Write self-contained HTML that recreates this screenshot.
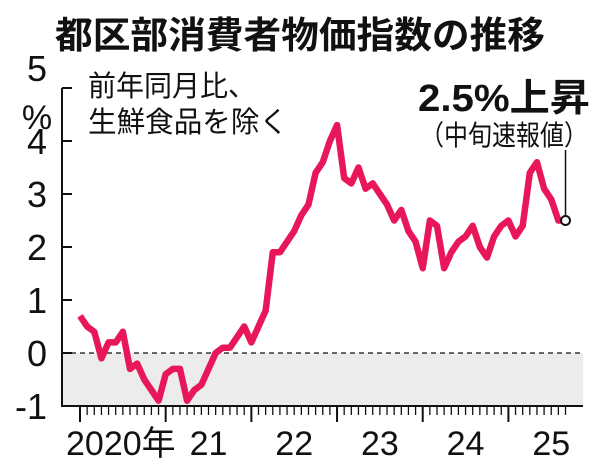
<!DOCTYPE html>
<html><head><meta charset="utf-8"><style>
body{margin:0;background:#fff}
svg{display:block;font-family:"Liberation Sans","Noto Sans CJK JP",sans-serif}
</style></head><body>
<svg width="600" height="469" viewBox="0 0 600 469">
<text x="300" y="48" text-anchor="middle" font-size="37" font-weight="bold" fill="#111" textLength="490" lengthAdjust="spacingAndGlyphs">都区部消費者物価指数の推移</text>
<g id="plot"></g>
<text x="88" y="96" font-size="29" fill="#111" textLength="168" lengthAdjust="spacingAndGlyphs">前年同月比、</text>
<text x="88" y="132" font-size="29" fill="#111" textLength="200" lengthAdjust="spacingAndGlyphs">生鮮食品を除く</text>
<text x="37" y="129" text-anchor="middle" font-size="34" fill="#111">%</text>
<text x="418" y="111" font-size="38" font-weight="bold" fill="#111" textLength="172" lengthAdjust="spacingAndGlyphs">2.5%上昇</text>
<text x="420" y="145" font-size="28" fill="#111" textLength="168" lengthAdjust="spacingAndGlyphs">（中旬速報値）</text>
</svg>
<script>
const years=["2020年","21","22","23","24","25"];
const yTicks=[-1,0,1,2,3,4,5];
const values=[0.7,0.5,0.4,-0.1,0.2,0.2,0.4,-0.3,-0.2,-0.5,-0.7,-0.9,
-0.4,-0.3,-0.3,-0.9,-0.7,-0.6,-0.3,0.0,0.1,0.1,0.3,0.5,
0.2,0.5,0.8,1.9,1.9,2.1,2.3,2.6,2.8,3.4,3.6,4.0,
4.3,3.3,3.2,3.5,3.1,3.2,3.0,2.8,2.5,2.7,2.3,2.1,
1.6,2.5,2.4,1.6,1.9,2.1,2.2,2.4,2.0,1.8,2.2,2.4,
2.5,2.2,2.4,3.4,3.6,3.1,2.9,2.5,2.5];
const NS="http://www.w3.org/2000/svg";
const g=document.getElementById('plot');
const x=i=>80+i*7.14;
const y=v=>353-v*53;
function el(t,a){const e=document.createElementNS(NS,t);for(const k in a)e.setAttribute(k,a[k]);g.appendChild(e);return e;}
let r=el('rect',{x:62,y:y(0),width:521,height:y(-1)-y(0),fill:'#ececec'});


let zl=el('line',{x1:62,x2:583,y1:y(0),y2:y(0),stroke:'#111','stroke-width':1.3,'stroke-dasharray':'5,4'});


let ya=el('line',{x1:62,x2:62,y1:y(5),y2:y(-1)+1,stroke:'#111','stroke-width':2});


let xa=el('line',{x1:62,x2:583,y1:y(-1),y2:y(-1),stroke:'#111','stroke-width':2});


yTicks.forEach(v=>{
 let t=el('line',{x1:62,x2:72,y1:y(v),y2:y(v),stroke:'#111','stroke-width':2});
 
 
 let l=el('text',{x:47,y:y(v)+(v===5?-7:13),'text-anchor':'end','font-size':36,fill:'#111'});
 l.textContent=v===-1?'-1':v;
 
 
});
for(let i=0;i<values.length;i++){
 const major=i%12===0;
 let t=el('line',{x1:x(i),x2:x(i),y1:y(-1),y2:y(-1)+(major?16:9),stroke:'#111','stroke-width':major?2:1.3});
 
 
}
years.forEach((yr,k)=>{
 let l=el('text',{x:x(k*12+6)-(k===0?2:0),y:455,'text-anchor':'middle','font-size':34,fill:'#111'});
 l.textContent=yr;
 
 
});
let p=el('polyline',{points:values.map((v,i)=>x(i)+','+y(v)).join(' '),fill:'none',stroke:'#e8175a','stroke-width':6.5,'stroke-linejoin':'round'});


const li=values.length-1;
let ll=el('line',{x1:x(li),x2:x(li),y1:150,y2:y(values[li])-5,stroke:'#111','stroke-width':1.5});


let c=el('circle',{cx:x(li),cy:y(values[li]),r:4.5,fill:'#fff',stroke:'#111','stroke-width':2});


</script>
</body></html>
